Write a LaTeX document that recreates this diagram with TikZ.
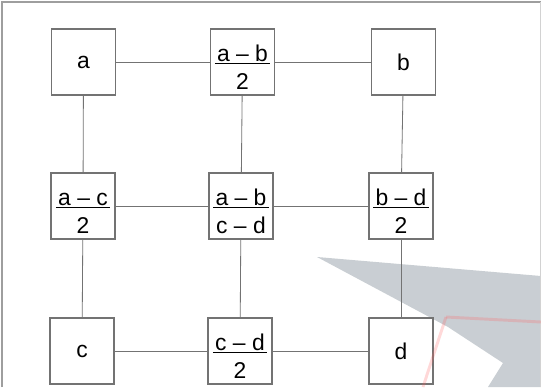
\documentclass[tikz,border=0pt]{standalone}
\usepackage{fontspec}
\setmainfont{Liberation Sans}
\usepackage{tikz}
\usetikzlibrary{positioning,calc}
\definecolor{frameg}{gray}{0.62}
\definecolor{lineg}{gray}{0.45}
\definecolor{markg}{RGB}{201,206,211}
\newcommand{\frc}[2]{\rule{0pt}{23pt}\underline{\hspace{2pt}#1\hspace{2pt}}\\[4pt]#2}

\begin{document}
\begin{tikzpicture}[x=0.03cm,y=-0.03cm,every node/.style={font=\fontsize{19.5}{20}\selectfont},
  cell/.style={draw=lineg,line width=0.9pt,fill=white,minimum width=1.92cm,minimum height=1.98cm,inner sep=0pt,align=center},
  link/.style={draw=lineg,line width=0.7pt}]
\useasboundingbox (0,0) rectangle (541,387);
% faint scan marks
\fill[markg] (317,257)--(541,276)--(541,387)--(488,387)--(503,363)--(448,327)--cycle;
\draw[frameg,line width=0.9pt] (2,387)--(2,2)--(541,2);
\draw[gray!35,line width=0.6pt] (540,2)--(540,387);
\node[cell] (a) at (83.5,62) {a}; \node[cell] (ab) at (242.5,62) {\frc{a -- b}{2}}; \node[cell] (b) at (403.5,62) {b};
\node[cell] (ac) at (83,206) {\frc{a -- c}{2}}; \node[cell] (abcd) at (241,206) {\frc{a -- b}{c -- d}}; \node[cell] (bd) at (401,206) {\frc{b -- d}{2}};
\node[cell] (c) at (82,351) {c}; \node[cell] (cd) at (240,351) {\frc{c -- d}{2}}; \node[cell] (d) at (401,351) {d};
\draw[link] (a)--(ab); \draw[link] (ab)--(b);
\draw[link] (ac)--(abcd); \draw[link] (abcd)--(bd);
\draw[link] (c)--(cd); \draw[link] (cd)--(d);
\draw[link] (a)--(ac); \draw[link] (ac)--(c);
\draw[link] (ab)--(abcd); \draw[link] (abcd)--(cd);
\draw[link] (b)--(bd); \draw[link] (bd)--(d);
\draw[red!60,opacity=0.25,line width=2.5pt] (446,317)--(541,322);
\draw[red!60,opacity=0.25,line width=2.5pt] (446,317)--(423,387);
\end{tikzpicture}
\end{document}
